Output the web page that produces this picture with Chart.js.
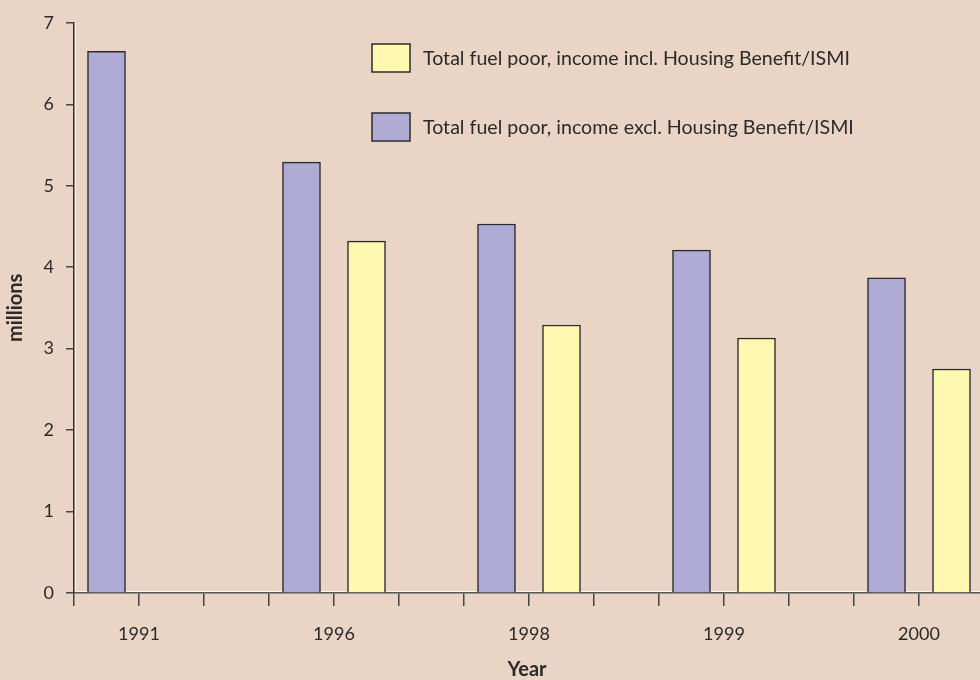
<!DOCTYPE html>
<html>
<head>
<meta charset="utf-8">
<script src="https://cdn.jsdelivr.net/npm/chart.js@4/dist/chart.umd.min.js"></script>
<style>
  html, body { margin: 0; padding: 0; background: #e9d4c5; overflow: hidden; }
  #wrap { width: 980px; height: 680px; position: relative; }
</style>
</head>
<body>
<div id="wrap"><canvas id="fuelChart" width="980" height="680"></canvas></div>
<script>
// === Data ===
const years = ["1991", "1996", "1998", "1999", "2000"];
const exclHB = [6.65, 5.29, 4.53, 4.21, 3.87];
const inclHB = [null, 4.32, 3.29, 3.13, 2.75];
const yTicks = [0, 1, 2, 3, 4, 5, 6, 7];

const labelExcl = "Total fuel poor, income excl. Housing Benefit/ISMI";
const labelIncl = "Total fuel poor, income incl. Housing Benefit/ISMI";

const purple = "#b0abd5";
const yellow = "#fff8b0";
const edge = "#2b2b2b";
const textColor = "#2a2a2a";
const fontFamily = "Lato, 'Open Sans', sans-serif";

// each year takes three slots on the axis: excl, incl, gap
const SLOTS = 3;
const toPoints = (vals, slot) =>
  vals.map((v, i) => ({ x: i * SLOTS + slot + 0.5, y: v })).filter(p => p.y !== null);

// === Legend drawn inside the plot, plus light inner edge on the axes ===
const innerLegend = {
  id: "innerLegend",
  beforeDatasetsDraw(chart) {
    const { ctx, chartArea } = chart;
    ctx.save();
    ctx.strokeStyle = "rgba(255,255,255,0.8)";
    ctx.lineWidth = 1;
    ctx.beginPath();
    ctx.moveTo(chartArea.left + 1.5, chartArea.top);
    ctx.lineTo(chartArea.left + 1.5, chartArea.bottom - 1.5);
    ctx.lineTo(chartArea.right, chartArea.bottom - 1.5);
    ctx.stroke();
    ctx.restore();
  },
  afterDraw(chart) {
    const ctx = chart.ctx;
    const items = [
      { label: labelIncl, color: yellow, y: 44 },
      { label: labelExcl, color: purple, y: 113 }
    ];
    ctx.save();
    ctx.font = "19.6px " + fontFamily;
    ctx.textBaseline = "middle";
    items.forEach(it => {
      ctx.fillStyle = it.color;
      ctx.fillRect(372, it.y, 38, 28);
      ctx.strokeStyle = edge;
      ctx.lineWidth = 1.5;
      ctx.strokeRect(372, it.y, 38, 28);
      ctx.fillStyle = textColor;
      ctx.fillText(it.label, 423, it.y + 15);
    });
    ctx.restore();
  }
};

new Chart(document.getElementById("fuelChart"), {
  type: "bar",
  data: {
    datasets: [
      {
        label: labelExcl,
        data: toPoints(exclHB, 0),
        backgroundColor: purple,
        borderColor: edge,
        borderWidth: 1.5,
        borderSkipped: "bottom",
        barThickness: 38,
        grouped: false
      },
      {
        label: labelIncl,
        data: toPoints(inclHB, 1),
        backgroundColor: yellow,
        borderColor: edge,
        borderWidth: 1.5,
        borderSkipped: "bottom",
        barThickness: 38,
        grouped: false
      }
    ]
  },
  plugins: [innerLegend],
  options: {
    responsive: false,
    animation: false,
    layout: { padding: { top: 11, right: 0, left: 0, bottom: 0 } },
    plugins: {
      legend: { display: false },
      tooltip: { enabled: false }
    },
    scales: {
      x: {
        type: "linear",
        offset: false,
        min: 0,
        max: 906 / 65,
        afterBuildTicks(scale) {
          const t = [];
          for (let i = 0; i <= years.length * SLOTS - 2; i++) t.push({ value: i });
          scale.ticks = t;
        },
        afterFit(scale) { scale.height = 87; },
        ticks: {
          autoSkip: false,
          maxRotation: 0,
          padding: 17,
          color: textColor,
          font: { family: fontFamily, size: 18 },
          callback: v => (v % SLOTS === 1 ? years[(v - 1) / SLOTS] : "")
        },
        grid: {
          offset: false,
          drawOnChartArea: false,
          drawTicks: true,
          tickLength: 13,
          color: "#444",
          lineWidth: 1.5
        },
        border: { color: "#555", width: 1.5 },
        title: {
          display: true,
          text: "Year",
          color: textColor,
          font: { family: fontFamily, size: 20, weight: "bold" },
          padding: { top: 10, bottom: -2 }
        }
      },
      y: {
        min: 0,
        max: 7,
        afterBuildTicks(scale) {
          scale.ticks = yTicks.map(v => ({ value: v }));
        },
        afterFit(scale) { scale.width = 74; },
        ticks: {
          padding: 12,
          color: textColor,
          font: { family: fontFamily, size: 18 }
        },
        grid: {
          drawOnChartArea: false,
          drawTicks: true,
          tickLength: 8,
          color: "#444",
          lineWidth: 1.5
        },
        border: { color: "#333", width: 1.5 },
        title: {
          display: true,
          text: "millions",
          color: textColor,
          font: { family: fontFamily, size: 20, weight: "bold" },
          padding: { bottom: 0, top: 4 }
        }
      }
    }
  }
});
</script>
</body>
</html>
